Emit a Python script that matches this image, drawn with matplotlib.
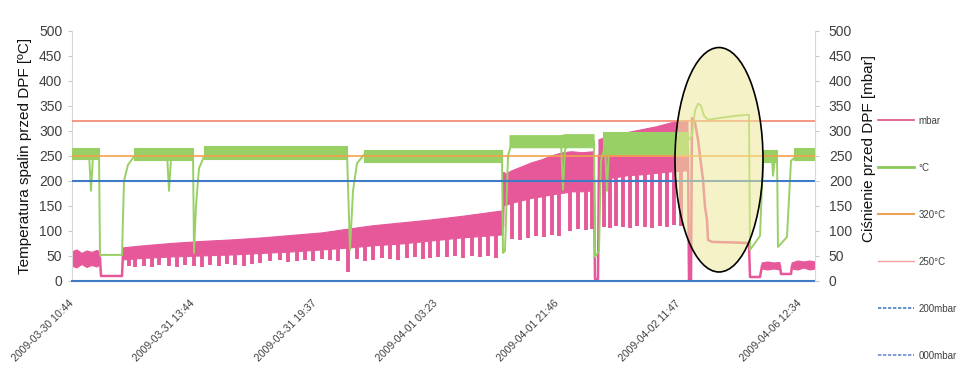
import numpy as np
import matplotlib
matplotlib.use('Agg')
import matplotlib.pyplot as plt
from matplotlib.patches import Ellipse
from matplotlib.lines import Line2D

plt.rcParams['font.family'] = ['Liberation Sans', 'DejaVu Sans']
NaN = np.nan

# ---------------- data (x = sample index, y in °C / mbar) ----------------
tick_pos = [0, 121, 243, 364, 485, 607, 728]
tick_labels = ['2009-03-30 10:44', '2009-03-31 13:44', '2009-03-31 19:37',
               '2009-04-01 03:23', '2009-04-01 21:46', '2009-04-02 11:47',
               '2009-04-06 12:34']
x_max = 743

ref_320 = 320
ref_250 = 250
ref_200 = 200
ref_000 = 0

# pressure (mbar): noisy band envelope
pink_band_x = [0, 5, 10, 15, 20, 25, 28, NaN,
               51, 70, 100, 130, 160, 190, 220, 250, 278, 300, 330, 360, 390, 431, NaN,
               432, 440, 450, 460, 470, 480, 491, 500, 510, 522, NaN,
               527, 540, 555, 570, 585, 600, 616, NaN,
               690, 696, 702, 708, NaN,
               720, 726, 732, 738, 743]
pink_band_top = [58, 62, 55, 60, 57, 61, 58, NaN,
                 66, 70, 75, 79, 82, 86, 91, 96, 104, 110, 116, 122, 129, 140, NaN,
                 212, 220, 228, 236, 242, 250, 256, 258, 256, 258, NaN,
                 282, 290, 296, 302, 308, 316, 320, NaN,
                 36, 38, 36, 37, NaN,
                 36, 40, 38, 40, 38]
pink_band_bot = [30, 26, 33, 27, 31, 28, 32, NaN,
                 42, 45, 48, 50, 52, 55, 58, 62, 66, 70, 74, 80, 86, 92, NaN,
                 150, 155, 160, 165, 168, 172, 175, 178, 178, 180, NaN,
                 200, 205, 210, 212, 215, 218, 220, NaN,
                 24, 22, 24, 22, NaN,
                 24, 22, 26, 22, 24]
# periodic pressure dips (x, lowest value)
pink_dip_x = [57, 63, 72, 80, 87, 97, 105, 113, 122, 130, 138, 147, 155, 163, 172,
              180, 188, 198, 208, 216, 225, 233, 241, 250, 258, 266, 276, 285, 293,
              301, 310, 318, 326, 335, 343, 351, 358, 366,
              375, 383, 391, 400, 408, 416, 424,
              440, 448, 456, 464, 472, 480, 487,
              498, 506, 514, 520,
              532, 538, 544, 551, 558, 565, 573, 580, 588, 595, 602, 609]
pink_dip_low = [30, 28, 30, 28, 32, 30, 28, 32, 30, 28, 32, 30, 34, 32, 30,
                34, 36, 40, 42, 38, 40, 42, 40, 44, 42, 40, 18, 44, 40,
                42, 46, 44, 42, 46, 48, 44, 46, 48,
                48, 50, 46, 50, 48, 50, 46,
                84, 82, 86, 90, 88, 92, 90,
                100, 104, 102, 104,
                108, 106, 110, 108, 106, 110, 108, 106, 110, 108, 112, 110]
# pressure single trace (steps, drops, regeneration decay)
pink_line_x = [28, 29, 50, 51, NaN, 431, 432, NaN, 522, 523, 526, 527, NaN,
               616, 617, 619, 620, 623, 626, 631, 633, 635, 636, 640, 660, 675, 677,
               678, 688, 690, NaN, 708, 709, 719, 720]
pink_line_y = [45, 10, 10, 55, NaN, 110, 215, NaN, 200, 4, 4, 250, NaN,
               260, 0, 0, 325, 316, 282, 202, 148, 122, 82, 78, 77, 76, 76,
               8, 8, 30, NaN, 30, 14, 14, 30]

# temperature (°C): main trace
green_x = [0, 17, 19, 21, 27, 28, 50, 52, 56, 62, 70, 95, 97, 99, 121, 122, 124, 127,
           132, 140, 275, 278, 281, 285, 292, 300, 430, 431, 433, 436, 440, 489, 491,
           493, 497, 522, 523, 527, 529, 533, 535, 537, 616, 620, 623, 626, 629, 632,
           636, 650, 665, 677, 678, 688, 691, 700, 701, 703, 705, 706, 715, 719, 725,
           743]
green_y = [255, 255, 180, 250, 255, 52, 52, 200, 232, 248, 255, 255, 180, 245, 255,
           56, 150, 225, 248, 256, 256, 62, 180, 235, 252, 250, 250, 56, 60, 250, 278,
           280, 182, 262, 278, 280, 48, 60, 240, 270, 180, 265, 280, 290, 340, 354,
           350, 330, 322, 326, 330, 332, 62, 90, 245, 250, 210, 248, 250, 68, 88, 240,
           250, 252]
# temperature noise band
green_band_x = [0, 27, NaN, 62, 121, NaN, 132, 275, NaN, 292, 430, NaN,
                438, 489, 493, 522, NaN, 531, 616, NaN, 691, 705, NaN, 722, 743]
green_band_lo = [244, 244, NaN, 242, 242, NaN, 244, 244, NaN, 238, 238, NaN,
                 266, 266, 266, 266, NaN, 254, 254, NaN, 238, 238, NaN, 242, 242]
green_band_hi = [266, 266, NaN, 266, 266, NaN, 270, 270, NaN, 262, 262, NaN,
                 290, 290, 292, 292, NaN, 298, 298, NaN, 262, 262, NaN, 265, 265]

# highlighted regeneration region (ellipse centre/size in data units)
ell_center = (647, 242)
ell_size = (88, 448)

# ---------------- styles ----------------
C_PINK = '#e6589a'
C_GREEN = '#98d066'
C_BLUE = '#3f7bc4'
C_320 = '#f4866e'
C_250 = '#f2a24c'
TXT = '#404040'

fig = plt.figure(figsize=(9.75, 3.79), dpi=100)
ax = fig.add_axes([72 / 975, 98 / 379, 743 / 975, 250.5 / 379])

pbx = np.array(pink_band_x, float)
ax.fill_between(pbx, pink_band_bot, pink_band_top, color=C_PINK, lw=0.8,
                edgecolor=C_PINK, zorder=2)
valid = ~np.isnan(pbx)
dip_top = np.interp(pink_dip_x, pbx[valid], np.array(pink_band_bot, float)[valid])
ax.vlines(pink_dip_x, pink_dip_low, dip_top, color=C_PINK, lw=2.8, zorder=2)
ax.plot(pink_line_x, pink_line_y, color=C_PINK, lw=1.8, zorder=2.5)

ax.fill_between(green_band_x, green_band_lo, green_band_hi, color=C_GREEN, lw=0.8,
                edgecolor=C_GREEN, zorder=3)
ax.plot(green_x, green_y, color=C_GREEN, lw=1.4, zorder=3.2)

ax.axhline(ref_320, color=C_320, lw=1.2, zorder=4)
ax.axhline(ref_250, color=C_250, lw=1.2, zorder=4)
ax.axhline(ref_200, color=C_BLUE, lw=1.5, zorder=4)
ax.axhline(ref_000, color=C_BLUE, lw=1.5, zorder=4, clip_on=False)

ell = Ellipse(ell_center, ell_size[0], ell_size[1], facecolor=(0.937, 0.914, 0.604, 0.55),
              edgecolor='black', lw=1.2, zorder=5)
ax.add_patch(ell)

ax.set_xlim(0, x_max)
ax.set_ylim(0, 500)
ax.set_yticks(np.arange(0, 501, 50))
ax.set_xticks(tick_pos)
ax.set_xticklabels(tick_labels, rotation=45, ha='right', va='center',
                   rotation_mode='anchor', fontsize=7.5, color=TXT)
ax.tick_params(axis='x', length=0, pad=15)
ax.tick_params(axis='y', length=3, color='#c8c8c8', labelsize=10, labelcolor=TXT, pad=4)
for s in ['top', 'right', 'bottom']:
    ax.spines[s].set_visible(False)
ax.spines['left'].set_color('#d8d8d8')
ax.set_ylabel('Temperatura spalin przed DPF [ºC]', fontsize=11, color='#111111')
ax.yaxis.set_label_coords(-0.054, 0.5)

ax2 = ax.twinx()
ax2.set_ylim(0, 500)
ax2.set_yticks(np.arange(0, 501, 50))
ax2.tick_params(axis='y', length=3, color='#c8c8c8', labelsize=10, labelcolor=TXT, pad=7)
for s in ['top', 'left', 'bottom']:
    ax2.spines[s].set_visible(False)
ax2.spines['right'].set_color('#d8d8d8')
ax2.set_ylabel('Ciśnienie przed DPF [mbar]', fontsize=11, color='#111111')
ax2.yaxis.set_label_coords(1.063, 0.53)

handles = [
    Line2D([], [], color='#e0507a', lw=1.2),
    Line2D([], [], color='#8cc85a', lw=2.0),
    Line2D([], [], color='#eea055', lw=1.5),
    Line2D([], [], color='#f4a0a0', lw=1.0),
    Line2D([], [], color='#4a80c8', lw=1.2, ls=(0, (2, 1))),
    Line2D([], [], color='#6a8ad0', lw=1.2, ls=(0, (2, 1))),
]
labels = ['mbar', '°C', '320°C', '250°C', '200mbar', '000mbar']
leg = ax2.legend(handles, labels, loc='upper left', bbox_to_anchor=(874 / 975, 1 - 112 / 379),
                 bbox_transform=fig.transFigure, frameon=False, fontsize=7,
                 handlelength=3.7, handletextpad=0.5, labelspacing=3.8, borderaxespad=0)
for t in leg.get_texts():
    t.set_color(TXT)

fig.savefig('out.png', dpi=100)
